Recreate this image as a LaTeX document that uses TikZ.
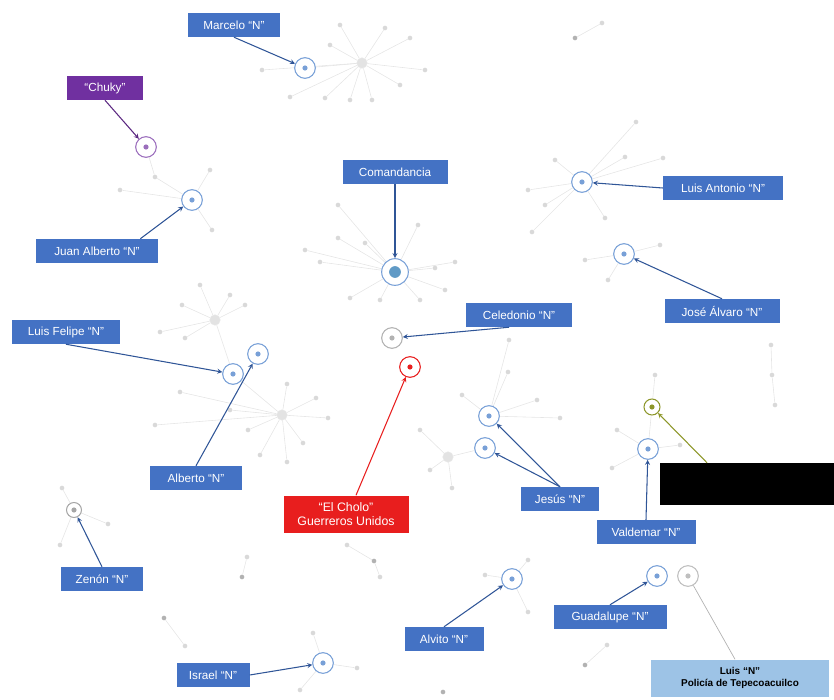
\documentclass[tikz,border=0pt]{standalone}
\usepackage{fontspec}
\setmainfont{Liberation Sans}
\usetikzlibrary{positioning,shapes,arrows,calc,backgrounds}

\definecolor{boxblue}{RGB}{68,114,196}
\definecolor{boxpurple}{RGB}{112,48,160}
\definecolor{boxred}{RGB}{232,30,30}
\definecolor{boxlight}{RGB}{157,195,230}
\definecolor{linkblue}{RGB}{47,85,151}
\definecolor{ringblue}{RGB}{120,160,215}
\definecolor{olive}{RGB}{140,150,40}

\begin{document}
\begin{tikzpicture}[x=0.03cm, y=-0.03cm,
    tag/.style={rectangle, fill=boxblue, text=white, font=\fontsize{10}{11.5}\selectfont, minimum height=0.72cm, inner sep=2pt, align=center},
    tgt/.style={circle, draw=#1, fill=white, line width=0.9pt, minimum size=0.62cm, inner sep=0pt,
        path picture={\fill[#1] (path picture bounding box.center) circle (2.2pt);}},
    dot/.style={circle, fill=gray!30, inner sep=0pt, minimum size=4pt},
    hubdot/.style={circle, fill=gray!22, draw=gray!18, inner sep=0pt, minimum size=9pt},
    faint/.style={gray!20, line width=0.5pt},
    link/.style={->, >=stealth, line width=0.9pt, draw=linkblue}
]
    \useasboundingbox (0,0) rectangle (834,700);

    \node[tag, minimum width=2.76cm] (marcelo) at (234,25) {Marcelo “N”};
    \node[tag, fill=boxpurple, minimum width=2.25cm] (chuky) at (105,88) {“Chuky”};
    \node[tag, minimum width=3.63cm] (juanalberto) at (97,251) {Juan Alberto “N”};
    \node[tag, minimum width=3.15cm] (comandancia) at (395,172) {Comandancia};
    \node[tag, minimum width=3.6cm] (luisantonio) at (723,188) {Luis Antonio “N”};
    \node[tag, minimum width=3.45cm] (jose) at (722,311) {José Álvaro “N”};
    \node[tag, minimum width=3.24cm] (luisfelipe) at (66,332) {Luis Felipe “N”};
    \node[tag, minimum width=3.18cm] (celedonio) at (519,315) {Celedonio “N”};
    \node[tag, minimum width=2.76cm] (alberto) at (196,478) {Alberto “N”};
    \node[tag, fill=boxred, font=\fontsize{10.5}{12}\selectfont, minimum width=3.75cm, minimum height=1.11cm] (cholo) at (346,514) {“El Cholo”\\Guerreros Unidos};
    \node[tag, minimum width=2.34cm] (jesus) at (560,499) {Jesús “N”};
    \node[tag, minimum width=2.97cm] (valdemar) at (646,532) {Valdemar “N”};
    \node[rectangle, fill=black, minimum width=5.22cm, minimum height=1.26cm, inner sep=0pt] (tachado) at (747,484) {};
    \node[tag, minimum width=2.43cm] (zenon) at (102,579) {Zenón “N”};
    \node[tag, minimum width=2.19cm] (israel) at (213,675) {Israel “N”};
    \node[tag, minimum width=2.37cm] (alvito) at (444,639) {Alvito “N”};
    \node[tag, minimum width=3.39cm] (guadalupe) at (610,617) {Guadalupe “N”};
    \node[tag, fill=boxlight, text=black, font=\bfseries\fontsize{8.5}{10}\selectfont, minimum width=5.34cm, minimum height=1.11cm] (luispolicia) at (740,678) {Luis “N”\\Policía de Tepecoacuilco};

    \node[tgt=ringblue] (tmarcelo) at (305,68) {};
    \node[tgt=boxpurple!70] (tchuky) at (146,147) {};
    \node[tgt=ringblue] (tjuanalberto) at (192,200) {};
    \node[circle, draw=ringblue, fill=white, line width=0.9pt, minimum size=0.8cm, inner sep=0pt,
        path picture={\fill[ringblue!80!teal] (path picture bounding box.center) circle (5pt);}] (tcomandancia) at (395,272) {};
    \node[tgt=ringblue] (tluisantonio) at (582,182) {};
    \node[tgt=ringblue] (tjose) at (624,254) {};
    \node[tgt=ringblue] (tluisfelipe) at (233,374) {};
    \node[tgt=ringblue] (talberto) at (258,354) {};
    \node[tgt=gray!60] (tceledonio) at (392,338) {};
    \node[tgt=boxred] (tcholo) at (410,367) {};
    \node[tgt=ringblue] (tjesusa) at (489,416) {};
    \node[tgt=ringblue] (tjesusb) at (485,448) {};
    \node[tgt=olive, minimum size=0.48cm] (ttachado) at (652,407) {};
    \node[tgt=ringblue] (tvaldemar) at (648,449) {};
    \node[tgt=gray!70, minimum size=0.45cm] (tzenon) at (74,510) {};
    \node[tgt=ringblue] (tisrael) at (323,663) {};
    \node[tgt=ringblue] (talvito) at (512,579) {};
    \node[tgt=ringblue] (tguadalupe) at (657,576) {};
    \node[tgt=gray!50] (tluispolicia) at (688,576) {};

    \begin{pgfonlayer}{background}
        \node[hubdot] (hmarcelo) at (362,63) {};
        \draw[faint] (tmarcelo) -- (hmarcelo);
        \foreach \x/\y [count=\i] in {340/25, 385/28, 410/38, 425/70, 400/85, 372/100, 350/100, 325/98, 330/45, 290/97, 262/70}
            {\node[dot] (m\i) at (\x,\y) {}; \draw[faint] (hmarcelo) -- (m\i);}
        \foreach \x/\y [count=\i] in {155/177, 120/190, 210/170, 212/230}
            {\node[dot] (c\i) at (\x,\y) {}; \draw[faint] (tjuanalberto) -- (c\i);}
        \draw[faint] (tchuky) -- (c1);
        \foreach \x/\y [count=\i] in {338/205, 338/238, 365/243, 418/225, 455/262, 435/268, 350/298, 380/300, 420/300, 445/290, 320/262, 305/250}
            {\node[dot] (k\i) at (\x,\y) {}; \draw[faint] (tcomandancia) -- (k\i);}
        \foreach \x/\y [count=\i] in {555/160, 625/157, 636/122, 663/158, 545/205, 528/190, 532/232, 605/218}
            {\node[dot] (a\i) at (\x,\y) {}; \draw[faint] (tluisantonio) -- (a\i);}
        \foreach \x/\y [count=\i] in {660/245, 608/280, 585/260}
            {\node[dot] (j\i) at (\x,\y) {}; \draw[faint] (tjose) -- (j\i);}
        \node[dot] (r1) at (771,345) {};
        \node[dot] (r2) at (772,375) {};
        \node[dot] (r3) at (775,405) {};
        \draw[faint] (r1) -- (r2) -- (r3);
        \node[hubdot] (hfelipe) at (215,320) {};
        \draw[faint] (tluisfelipe) -- (hfelipe);
        \foreach \x/\y [count=\i] in {182/305, 245/305, 185/338, 160/332, 200/285, 230/295}
            {\node[dot] (f\i) at (\x,\y) {}; \draw[faint] (hfelipe) -- (f\i);}
        \node[hubdot] (halberto) at (282,415) {};
        \draw[faint] (tluisfelipe) -- (halberto);
        \foreach \x/\y [count=\i] in {287/384, 316/398, 248/430, 328/418, 303/443, 260/455, 287/462, 230/410, 180/392, 155/425}
            {\node[dot] (b\i) at (\x,\y) {}; \draw[faint] (halberto) -- (b\i);}
        \foreach \x/\y [count=\i] in {509/340, 508/372, 537/400, 462/395, 560/418}
            {\node[dot] (s\i) at (\x,\y) {}; \draw[faint] (tjesusa) -- (s\i);}
        \node[hubdot] (hjesus) at (448,457) {};
        \draw[faint] (tjesusb) -- (hjesus);
        \foreach \x/\y [count=\i] in {420/430, 452/488, 430/470}
            {\node[dot] (g\i) at (\x,\y) {}; \draw[faint] (hjesus) -- (g\i);}
        \foreach \x/\y [count=\i] in {617/430, 612/468, 680/445, 655/375}
            {\node[dot] (v\i) at (\x,\y) {}; \draw[faint] (tvaldemar) -- (v\i);}
        \foreach \x/\y [count=\i] in {62/488, 108/524, 60/545}
            {\node[dot] (z\i) at (\x,\y) {}; \draw[faint] (tzenon) -- (z\i);}
        \foreach \x/\y [count=\i] in {313/633, 357/668, 300/690}
            {\node[dot] (i\i) at (\x,\y) {}; \draw[faint] (tisrael) -- (i\i);}
        \foreach \x/\y [count=\i] in {485/575, 528/560, 528/612}
            {\node[dot] (l\i) at (\x,\y) {}; \draw[faint] (talvito) -- (l\i);}
        \node[dot] (p1) at (347,545) {};
        \node[dot, fill=gray!60] (p2) at (374,561) {};
        \node[dot] (p3) at (380,577) {};
        \draw[faint] (p1) -- (p2) -- (p3);
        \node[dot] (q1) at (247,557) {};
        \node[dot, fill=gray!60] (q2) at (242,577) {};
        \draw[faint] (q1) -- (q2);
        \node[dot, fill=gray!60] (w1) at (164,618) {};
        \node[dot] (w2) at (185,646) {};
        \draw[faint] (w1) -- (w2);
        \node[dot] (u1) at (607,645) {};
        \node[dot, fill=gray!60] (u2) at (585,665) {};
        \draw[faint] (u1) -- (u2);
        \node[dot, fill=gray!60] (e1) at (575,38) {};
        \node[dot] (e2) at (602,23) {};
        \draw[faint] (e1) -- (e2);
        \node[dot, fill=gray!60] (n1) at (443,692) {};
    \end{pgfonlayer}

    \draw[link] (marcelo.south) -- (tmarcelo);
    \draw[link, draw=boxpurple!80!black] (chuky.south) -- (tchuky);
    \draw[link] ([xshift=1.3cm]juanalberto.north) -- (tjuanalberto);
    \draw[link] (comandancia.south) -- (tcomandancia);
    \draw[link] (luisantonio.west) -- (tluisantonio);
    \draw[link] (jose.north) -- (tjose);
    \draw[link] (luisfelipe.south) -- (tluisfelipe);
    \draw[link] (alberto.north) -- (talberto);
    \draw[link] ([xshift=-0.3cm]celedonio.south) -- (tceledonio);
    \draw[link, draw=boxred] ([xshift=0.3cm]cholo.north) -- (tcholo);
    \draw[link] (jesus.north) -- (tjesusa);
    \draw[link] (jesus.north) -- (tjesusb);
    \draw[link, draw=olive] ([xshift=-1.2cm]tachado.north) -- (ttachado);
    \draw[link] (valdemar.north) -- (tvaldemar);
    \draw[link] (zenon.north) -- (tzenon);
    \draw[link] (israel.east) -- (tisrael);
    \draw[link] (alvito.north) -- (talvito);
    \draw[link] (guadalupe.north) -- (tguadalupe);
    \draw[gray!60, line width=0.6pt] ([xshift=-0.15cm]luispolicia.north) -- (tluispolicia);
\end{tikzpicture}
\end{document}
